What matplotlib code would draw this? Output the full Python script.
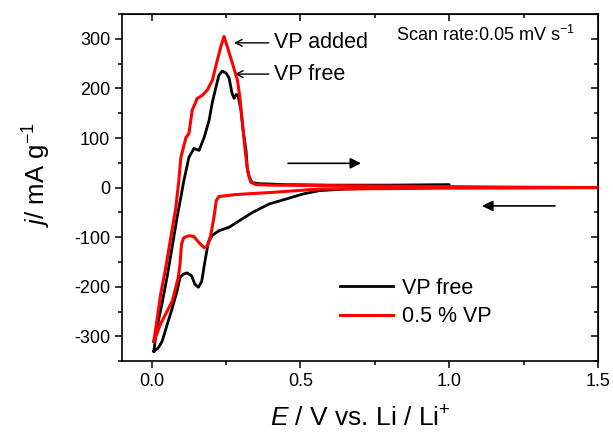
import matplotlib
matplotlib.use("Agg")
import matplotlib.pyplot as plt
from matplotlib.ticker import MultipleLocator, FormatStrFormatter

plt.rcParams['font.family'] = ['Liberation Sans', 'DejaVu Sans']
plt.rcParams['mathtext.fontset'] = 'custom'
plt.rcParams['mathtext.rm'] = 'Liberation Sans'
plt.rcParams['mathtext.it'] = 'Liberation Sans:italic'
plt.rcParams['axes.unicode_minus'] = False

# VP free (black) - anodic then cathodic sweep
free_anodic_E = [0.007, 0.017, 0.034, 0.051, 0.068, 0.085, 0.097, 0.108, 0.125, 0.142, 0.159,
                 0.176, 0.193, 0.203, 0.216, 0.226, 0.237, 0.25, 0.26, 0.27, 0.277, 0.284,
                 0.29, 0.30, 0.307, 0.317, 0.321, 0.328, 0.338, 0.36, 0.45, 0.6, 0.8, 1.0]
free_anodic_j = [-330, -284, -236, -182, -122, -61, -22, 14, 61, 79, 75,
                 101, 136, 170, 203, 227, 235, 231, 221, 190, 180, 188,
                 186, 156, 116, 75, 40, 20, 10, 8, 6, 5, 5, 6]
free_cathodic_E = [1.0, 0.97, 0.8, 0.65, 0.564, 0.508, 0.452, 0.395, 0.339, 0.294, 0.26, 0.226,
                   0.204, 0.19, 0.179, 0.168, 0.157, 0.145, 0.134, 0.119, 0.105, 0.095, 0.085,
                   0.069, 0.052, 0.035, 0.021, 0.007]
free_cathodic_j = [6, 0, -1, -3, -6, -13, -23, -33, -50, -67, -80, -87,
                   -96, -111, -148, -189, -201, -195, -178, -172, -175, -182, -209,
                   -243, -276, -310, -324, -330]

# 0.5 % VP (red)
vp_anodic_E = [0.007, 0.017, 0.03, 0.047, 0.064, 0.081, 0.091, 0.098, 0.115, 0.125, 0.136,
               0.153, 0.17, 0.187, 0.204, 0.215, 0.232, 0.243, 0.254, 0.271, 0.288, 0.296,
               0.305, 0.314, 0.322, 0.333, 0.35, 0.4, 0.6, 0.8, 1.0, 1.2, 1.5]
vp_anodic_j = [-310, -270, -215, -162, -101, -40, 14, 61, 101, 109, 156,
               180, 186, 197, 217, 244, 284, 305, 284, 251, 217, 183,
               129, 75, 34, 11, 6, 5, 4, 3, 2, 1, 0]
vp_cathodic_E = [1.5, 1.2, 1.0, 0.8, 0.564, 0.395, 0.283, 0.226, 0.217, 0.209, 0.198, 0.187,
                 0.176, 0.159, 0.142, 0.125, 0.108, 0.100, 0.095, 0.089, 0.069, 0.046, 0.029,
                 0.012, 0.007]
vp_cathodic_j = [0, -1, -1, -2, -3, -10, -14, -18, -26, -60, -97, -118,
                 -121, -111, -99, -97, -101, -114, -155, -182, -229, -256, -276,
                 -303, -310]

free_E = free_anodic_E + free_cathodic_E
free_j = free_anodic_j + free_cathodic_j
vp_E = vp_anodic_E + vp_cathodic_E
vp_j = vp_anodic_j + vp_cathodic_j

fig = plt.figure(figsize=(6.13, 4.34), dpi=100)
ax = fig.add_axes([0.199, 0.168, 0.7765, 0.7995])

ax.plot(free_E, free_j, color='black', lw=2, label='VP free', zorder=3,
        solid_joinstyle='round')
ax.plot(vp_E, vp_j, color='#ff0000', lw=2.2, label='0.5 % VP', zorder=4,
        solid_joinstyle='round')

ax.set_xlim(-0.1, 1.5)
ax.set_ylim(-350, 350)
ax.xaxis.set_major_locator(MultipleLocator(0.5))
ax.xaxis.set_minor_locator(MultipleLocator(0.25))
ax.yaxis.set_major_locator(MultipleLocator(100))
ax.yaxis.set_minor_locator(MultipleLocator(50))
ax.xaxis.set_major_formatter(FormatStrFormatter('%.1f'))

for s in ax.spines.values():
    s.set_linewidth(1.2)
ax.tick_params(which='both', direction='out', width=1.1, labelsize=13)
ax.tick_params(which='major', length=5)
ax.tick_params(which='minor', length=3)

# inward ticks on top and right
axt = ax.secondary_xaxis('top')
axt.xaxis.set_major_locator(MultipleLocator(0.5))
axt.xaxis.set_minor_locator(MultipleLocator(0.25))
axt.tick_params(which='both', direction='in', width=1.1, labeltop=False)
axt.tick_params(which='major', length=5)
axt.tick_params(which='minor', length=3)
axr = ax.secondary_yaxis('right')
axr.yaxis.set_major_locator(MultipleLocator(100))
axr.yaxis.set_minor_locator(MultipleLocator(50))
axr.tick_params(which='both', direction='in', width=1.1, labelright=False)
axr.tick_params(which='major', length=5)
axr.tick_params(which='minor', length=3)

fig.text(360 / 613, 0.017, '$\\mathit{E}$ / V vs. Li / Li$^{+}$', fontsize=19,
         ha='center', va='baseline')
fig.text(0.060, 0.598, '$\\mathit{j}$/ mA g$^{-1}$', fontsize=18.5, rotation=90,
         ha='center', va='center')

ax.text(0.821, 296, 'Scan rate:0.05 mV s$^{-1}$', fontsize=13, ha='left', va='baseline')

arrowprops = dict(arrowstyle='->', color='black', lw=1.0, mutation_scale=12)
ax.annotate('VP added', xy=(0.267, 292), xytext=(0.412, 292), fontsize=15.5,
            va='center', ha='left', arrowprops=arrowprops)
ax.annotate('VP free', xy=(0.27, 229), xytext=(0.412, 229), fontsize=15.5,
            va='center', ha='left', arrowprops=arrowprops)

big = dict(arrowstyle='-|>', color='black', lw=1.2, mutation_scale=16)
ax.annotate('', xy=(0.713, 49), xytext=(0.449, 49), arrowprops=big)
ax.annotate('', xy=(1.101, -37), xytext=(1.365, -37), arrowprops=big)

leg = ax.legend(loc='upper left', bbox_to_anchor=(0.458, 0.24), frameon=False,
                fontsize=15.5, handlelength=2.45, handletextpad=0.42,
                labelspacing=0.35, borderpad=0, borderaxespad=0)

fig.savefig('out.png', dpi=100)
